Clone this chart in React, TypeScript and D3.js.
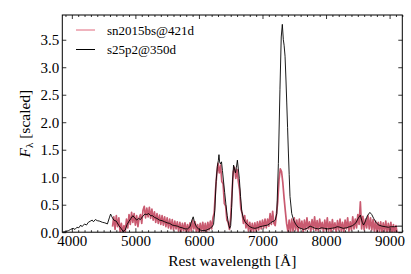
import React, { useEffect, useRef } from "react";
import * as d3 from "d3";

// s25p2@350d model spectrum (wavelength in A, scaled flux)
const modelWave = [
  3850, 3900, 3950, 3980, 4020, 4050, 4080, 4110, 4140, 4160, 4200, 4230, 4260, 4290, 4320, 4340,
  4370, 4400, 4440, 4480, 4520, 4560, 4590, 4610, 4630, 4660, 4700, 4740, 4780, 4810, 4840, 4870,
  4900, 4930, 4960, 4990, 5020, 5050, 5080, 5110, 5150, 5180, 5210, 5240, 5270, 5300, 5340, 5380,
  5420, 5460, 5500, 5540, 5580, 5620, 5660, 5700, 5740, 5780, 5820, 5860, 5890, 5910, 5930, 5960,
  6000, 6040, 6080, 6120, 6160, 6200, 6230, 6250, 6270, 6290, 6305, 6315, 6325, 6340, 6355, 6370,
  6385, 6405, 6425, 6445, 6465, 6485, 6500, 6515, 6530, 6545, 6560, 6575, 6590, 6605, 6620, 6635,
  6655, 6675, 6700, 6725, 6760, 6800, 6840, 6880, 6920, 6960, 7000, 7040, 7080, 7120, 7150, 7180,
  7200, 7225, 7250, 7275, 7295, 7312, 7328, 7340, 7355, 7370, 7382, 7395, 7408, 7420, 7433, 7460,
  7490, 7520, 7560, 7600, 7650, 7700, 7750, 7790, 7830, 7880, 7930, 7980, 8030, 8080, 8130, 8180,
  8220, 8270, 8320, 8370, 8420, 8470, 8510, 8540, 8570, 8590, 8620, 8650, 8690, 8720, 8750, 8790,
  8830, 8880, 8930, 8980, 9030, 9080, 9130, 9200,
];
const modelFlux = [
  0.0, 0.01, 0.03, 0.05, 0.07, 0.05, 0.09, 0.08, 0.13, 0.1, 0.15, 0.13, 0.18, 0.2, 0.22, 0.19,
  0.23, 0.21, 0.2, 0.18, 0.17, 0.15, 0.26, 0.33, 0.28, 0.22, 0.2, 0.12, 0.06, 0.01, 0.04, 0.14,
  0.2, 0.25, 0.3, 0.26, 0.22, 0.25, 0.23, 0.28, 0.33, 0.32, 0.34, 0.3, 0.3, 0.27, 0.25, 0.22,
  0.21, 0.19, 0.17, 0.16, 0.13, 0.12, 0.11, 0.09, 0.08, 0.06, 0.06, 0.1, 0.22, 0.28, 0.18, 0.1,
  0.05, 0.03, 0.03, 0.04, 0.06, 0.09, 0.14, 0.4, 0.92, 1.2, 1.3, 1.41, 1.28, 1.24, 1.28, 1.12,
  0.95, 0.72, 0.5, 0.3, 0.15, 0.07, 0.12, 0.45, 0.95, 1.22, 1.15, 1.08, 1.18, 1.31, 1.15, 0.98,
  0.65, 0.37, 0.25, 0.19, 0.14, 0.1, 0.08, 0.07, 0.08, 0.1, 0.11, 0.12, 0.13, 0.16, 0.19, 0.2,
  0.22, 0.34, 1.25, 2.6, 3.55, 3.78, 3.5, 3.4, 3.2, 2.75, 2.35, 1.9, 1.44, 1.05, 0.65, 0.34,
  0.22, 0.15, 0.09, 0.07, 0.05, 0.07, 0.11, 0.09, 0.07, 0.06, 0.08, 0.07, 0.06, 0.07, 0.08, 0.1,
  0.09, 0.07, 0.08, 0.1, 0.12, 0.17, 0.26, 0.31, 0.18, 0.13, 0.2, 0.3, 0.36, 0.32, 0.25, 0.17,
  0.13, 0.11, 0.1, 0.09, 0.1, 0.1, 0.11, 0.11,
];

// sn2015bs@421d observed spectrum, sampled every 20 A from 4640 A
const obsStart = 4640;
const obsStep = 20;
const obsFlux = [
  0.1, 0.28, 0.05, 0.3, 0.1, 0.26, 0.0, 0.16, -0.02, 0.12, 0.0,
  0.24, 0.08, 0.32, 0.14, 0.36, 0.18, 0.34, 0.13, 0.3, 0.1,
  0.26, 0.32, 0.16, 0.4, 0.47, 0.26, 0.44, 0.28, 0.45, 0.25,
  0.42, 0.22, 0.37, 0.18, 0.34, 0.16, 0.31, 0.14, 0.3, 0.13,
  0.28, 0.1, 0.26, 0.08, 0.24, 0.06, 0.23, 0.04, 0.2, 0.06,
  0.19, 0.02, 0.18, 0.0, 0.16, 0.03, 0.17, -0.01, 0.14, 0.01,
  0.17, 0.02, 0.22, 0.06, 0.19, 0.0, 0.14, -0.01, 0.16, 0.01,
  0.18, 0.02, 0.16, 0.0, 0.18, 0.04, 0.2, 0.06, 0.26, 0.35,
  0.75, 1.05, 1.25, 1.08, 1.22, 0.92, 0.88, 0.52, 0.48, 0.22,
  0.18, 0.05, 0.28, 0.7, 1.1, 1.18, 0.98, 1.14, 0.92, 0.77,
  0.42, 0.35, 0.16, 0.3, 0.08, 0.22, 0.02, 0.18, 0.0, 0.16,
  0.01, 0.17, 0.02, 0.19, 0.04, 0.2, 0.06, 0.22, 0.08, 0.24,
  0.08, 0.24, 0.11, 0.34, 0.14, 0.38, 0.16, 0.12, 0.33, 0.55,
  0.95, 1.15, 1.1, 0.9, 0.62, 0.38, 0.15, 0.02, 0.22, -0.01,
  0.24, 0.02, 0.26, 0.04, 0.22, 0.01, 0.24, 0.06, 0.2, 0.0,
  0.22, 0.04, 0.26, 0.06, 0.19, 0.01, 0.23, 0.05, 0.28, 0.03,
  0.21, 0.02, 0.24, 0.06, 0.18, 0.0, 0.22, 0.04, 0.26, 0.02,
  0.19, 0.01, 0.23, 0.05, 0.17, -0.01, 0.21, 0.04, 0.24, 0.02,
  0.18, 0.0, 0.22, 0.06, 0.26, 0.02, 0.19, 0.04, 0.28, 0.06,
  0.24, 0.08, 0.32, 0.14, 0.55, 0.06, 0.29, 0.04, 0.24, 0.08,
  0.3, 0.06, 0.26, 0.04, 0.23, 0.02, 0.2, 0.0, 0.18, 0.01,
  0.19, -0.01, 0.17, 0.02, 0.2, -0.02, 0.16, 0.01, 0.18, -0.03,
  0.14, -0.01, 0.12, -0.02,
];

const xTicks = [4000, 5000, 6000, 7000, 8000, 9000];
const yTicks = [0, 0.5, 1.0, 1.5, 2.0, 2.5, 3.0, 3.5];
const seriesNames = ["sn2015bs@421d", "s25p2@350d"];
const seriesColors = ["#c95a70", "#000000"];

const width = 411;
const height = 274;
const margin = { top: 15, right: 8.7, bottom: 41.8, left: 62.3 };
const font = "Liberation Serif";

export default function App() {
  const axesRef = useRef<SVGGElement>(null);

  const x = d3
    .scaleLinear()
    .domain([3850, 9200])
    .range([margin.left, width - margin.right]);
  const y = d3
    .scaleLinear()
    .domain([0, 3.95])
    .range([height - margin.bottom, margin.top]);

  const minorX = d3.range(3900, 9201, 100).filter((d) => d % 1000 !== 0);

  const line = d3
    .line<[number, number]>()
    .x((d) => x(d[0]))
    .y((d) => y(d[1]));

  const modelPts: [number, number][] = modelWave.map((w, i) => [w, modelFlux[i]]);
  const obsPts: [number, number][] = obsFlux.map((f, i) => [obsStart + i * obsStep, f]);

  useEffect(() => {
    const g = d3.select(axesRef.current);
    g.selectAll("*").remove();
    const b = height - margin.bottom;
    const r = width - margin.right;

    const style = (sel: any) => {
      sel.select(".domain").remove();
      sel.attr("font-family", font).attr("font-size", 15);
      sel.selectAll("line").attr("stroke", "#000").attr("stroke-width", 0.8);
    };

    g.append("g")
      .attr("transform", `translate(0,${b})`)
      .call(d3.axisBottom(x).tickValues(xTicks).tickSize(-4).tickPadding(3.5).tickFormat(d3.format("d")))
      .call(style);
    g.append("g")
      .attr("transform", `translate(0,${b})`)
      .call(d3.axisBottom(x).tickValues(minorX).tickSize(-2).tickFormat(() => ""))
      .call(style);
    g.append("g")
      .attr("transform", `translate(0,${margin.top})`)
      .call(d3.axisTop(x).tickValues(xTicks).tickSize(-4).tickFormat(() => ""))
      .call(style);
    g.append("g")
      .attr("transform", `translate(0,${margin.top})`)
      .call(d3.axisTop(x).tickValues(minorX).tickSize(-2).tickFormat(() => ""))
      .call(style);
    g.append("g")
      .attr("transform", `translate(${margin.left},0)`)
      .call(d3.axisLeft(y).tickValues(yTicks).tickSize(-4).tickPadding(3).tickFormat(d3.format(".1f")))
      .call(style);
    g.append("g")
      .attr("transform", `translate(${r},0)`)
      .call(d3.axisRight(y).tickValues(yTicks).tickSize(-4).tickFormat(() => ""))
      .call(style);
  }, []);

  return (
    <svg
      width={width}
      height={height}
      style={{ position: "absolute", left: 0, top: 0, background: "white" }}
    >
      <defs>
        <clipPath id="plotArea">
          <rect
            x={margin.left}
            y={margin.top}
            width={width - margin.left - margin.right}
            height={height - margin.top - margin.bottom}
          />
        </clipPath>
      </defs>
      <g clipPath="url(#plotArea)">
        <path
          d={line(obsPts) ?? ""}
          fill="none"
          stroke={seriesColors[0]}
          strokeWidth={1.7}
          strokeLinejoin="round"
        />
        <path d={line(modelPts) ?? ""} fill="none" stroke={seriesColors[1]} strokeWidth={0.9} />
      </g>
      <rect
        x={margin.left}
        y={margin.top}
        width={width - margin.left - margin.right}
        height={height - margin.top - margin.bottom}
        fill="none"
        stroke="#000"
        strokeWidth={1}
      />
      <g ref={axesRef} />

      {seriesNames.map((name, i) => (
        <g key={name} transform={`translate(0,${30 + i * 19.5})`}>
          <line x1={76} x2={95} y1={0} y2={0} stroke={i === 0 ? "#e0687c" : "#000"} strokeWidth={1} />
          <text x={107} y={4.5} fontFamily={font} fontSize={13}>
            {name}
          </text>
        </g>
      ))}

      <text
        x={(margin.left + width - margin.right) / 2}
        y={266}
        textAnchor="middle"
        fontFamily={font}
        fontSize={15.5}
      >
        Rest wavelength [Å]
      </text>
      <text
        transform={`translate(30,${(margin.top + height - margin.bottom) / 2}) rotate(-90)`}
        textAnchor="middle"
        fontFamily={font}
        fontSize={15.5}
      >
        <tspan fontStyle="italic">F</tspan>
        <tspan fontSize={11} dy={3}>λ</tspan>
        <tspan dy={-3}> [scaled]</tspan>
      </text>
    </svg>
  );
}
